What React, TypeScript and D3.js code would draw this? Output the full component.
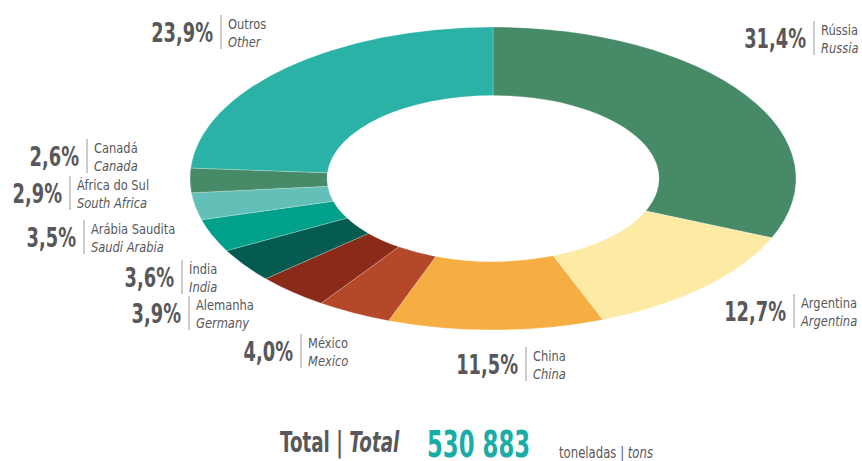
import React, { useEffect, useRef } from "react";
import * as d3 from "d3";

// Share of production by country (clockwise from 12 o'clock)
const namesPt = ["Rússia", "Argentina", "China", "México", "Alemanha", "Índia", "Arábia Saudita", "África do Sul", "Canadá", "Outros"];
const namesEn = ["Russia", "Argentina", "China", "Mexico", "Germany", "India", "Saudi Arabia", "South Africa", "Canada", "Other"];
const shares = [31.4, 12.7, 11.5, 4.0, 3.9, 3.6, 3.5, 2.9, 2.6, 23.9];
const colors = ["#468a67", "#fdeaa5", "#f6ae42", "#b6482a", "#8a2a18", "#055b4f", "#00a08b", "#63c0b9", "#468a67", "#2bb2a6"];
const total = "530 883";

// where each label's separator bar sits (x) and its vertical centre (y)
const labelX = [814, 794, 526, 301, 189, 182, 84, 70, 87, 221];
const labelY = [38, 311, 364, 351, 313, 277, 237, 193, 156, 32];

const W = 862;
const H = 461;
const FONT = "'DejaVu Sans', sans-serif";
const GREY = "#58585a";

const App = () => {
  const ref = useRef<SVGSVGElement>(null);

  useEffect(() => {
    const svg = d3.select(ref.current);
    svg.selectAll("*").remove();

    // text squeezed horizontally to mimic a condensed face
    const squeezed = (parent: any, x: number, y: number, sx: number, anchor = "start") =>
      parent
        .append("text")
        .attr("transform", `translate(${x},${y}) scale(${sx},1)`)
        .attr("text-anchor", anchor)
        .attr("font-family", FONT)
        .attr("fill", GREY);

    const data = shares.map((v, i) => ({ v, i }));
    const pie = d3.pie<any>().value((d) => d.v).sort(null);
    const arc = d3.arc<any>().innerRadius(83).outerRadius(151.5);

    // ring is a circle squashed to an ellipse
    const ring = svg.append("g").attr("transform", "translate(493,178.5) scale(2,1)");
    ring
      .selectAll("path")
      .data(pie(data))
      .enter()
      .append("path")
      .attr("d", arc)
      .attr("fill", (d) => colors[d.data.i])
      .attr("stroke", "#ffffff")
      .attr("stroke-opacity", 0.4)
      .attr("stroke-width", 0.6)
      .attr("vector-effect", "non-scaling-stroke");

    // labels
    data.forEach((d) => {
      const g = svg.append("g").attr("transform", `translate(${labelX[d.i]},${labelY[d.i]})`);
      squeezed(g, -8, 10, 0.66, "end")
        .attr("font-weight", "bold")
        .attr("font-size", 27)
        .text(d3.format(".1f")(d.v).replace(".", ",") + "%");
      g.append("line").attr("y1", -17).attr("y2", 17).attr("stroke", "#9a9a9a").attr("stroke-width", 1);
      squeezed(g, 7, -3, 0.82).attr("font-size", 14).text(namesPt[d.i]);
      squeezed(g, 7, 15, 0.82).attr("font-size", 14).attr("font-style", "italic").text(namesEn[d.i]);
    });

    // total row
    const t1 = squeezed(svg, 280, 452, 0.63).attr("font-size", 29).attr("font-weight", "bold");
    t1.append("tspan").text("Total | ");
    t1.append("tspan").attr("font-style", "italic").text("Total");

    squeezed(svg, 427, 457, 0.6)
      .attr("font-size", 38)
      .attr("font-weight", "bold")
      .attr("fill", "#1aaca6")
      .text(total);

    const t3 = squeezed(svg, 559, 458, 0.78).attr("font-size", 15);
    t3.append("tspan").text("toneladas | ");
    t3.append("tspan").attr("font-style", "italic").text("tons");
  }, []);

  return (
    <svg
      ref={ref}
      width={W}
      height={H}
      style={{ position: "absolute", left: 0, top: 0, background: "#fff" }}
    />
  );
};

export default App;
